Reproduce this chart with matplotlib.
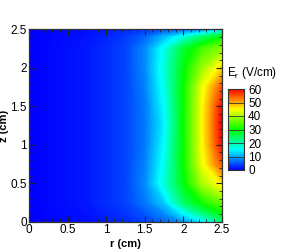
import numpy as np
import matplotlib
matplotlib.use("Agg")
import matplotlib.pyplot as plt
from matplotlib.colors import LinearSegmentedColormap
from matplotlib.ticker import MultipleLocator, FuncFormatter

plt.rcParams['font.family'] = ['Liberation Sans', 'DejaVu Sans']

# grid nodes (cm)
r = [0, 0.25, 0.5, 0.75, 1.0, 1.25, 1.5, 1.75, 2.0, 2.25, 2.5]
z = [0, 0.1, 0.25, 0.5, 0.75, 1.0, 1.25, 1.5, 1.75, 2.0, 2.25, 2.4, 2.5]

# E_r (V/cm), one row per z value
er = [
    [0, 0.3, 0.6, 1.0, 1.5, 2.5, 4.0, 6, 9, 14, 22],
    [0, 0.3, 0.7, 1.2, 2.0, 3.0, 5.0, 8, 14, 22, 29],
    [0, 0.5, 1.0, 1.5, 2.5, 4.0, 7.0, 12, 24, 31, 36],
    [0, 0.5, 1.0, 1.5, 2.5, 4.0, 8.0, 17, 29, 40, 46],
    [0, 0.5, 1.0, 1.5, 2.5, 4.0, 7.5, 16, 30, 44, 55],
    [0, 0.5, 1.0, 1.5, 2.5, 4.0, 7.0, 15, 30, 45, 59],
    [0, 0.5, 1.0, 1.5, 2.5, 4.0, 7.0, 14, 30, 45, 60],
    [0, 0.5, 1.0, 1.5, 2.5, 4.0, 7.0, 15, 30, 45, 59],
    [0, 0.5, 1.0, 1.5, 2.5, 4.0, 7.5, 16, 30, 44, 55],
    [0, 0.5, 1.0, 1.5, 2.5, 4.0, 8.0, 17, 29, 39, 47],
    [0, 0.5, 1.0, 1.5, 2.5, 4.0, 8.0, 16, 27, 34, 38],
    [0, 0.4, 0.8, 1.3, 2.0, 3.5, 6.0, 11, 17, 24, 30],
    [0, 0.3, 0.6, 1.0, 1.5, 2.5, 3.5, 4.5, 5.5, 7, 14],
]

cbar_ticks = [0, 10, 20, 30, 40, 50, 60]

cmap = LinearSegmentedColormap.from_list(
    "rainbow_tp", ["#0000ff", "#00ffff", "#00ff00", "#ffff00", "#ff0000"])

fig = plt.figure(figsize=(2.82, 2.5), dpi=100)
ax = fig.add_axes([0.1028, 0.1132, 0.684, 0.769])

R, Z = np.meshgrid(r, z)
levels = np.linspace(0, 60, 241)
ax.contourf(R, Z, np.array(er), levels=levels, cmap=cmap,
            extend="both", antialiased=False)

ax.set_xlim(0, 2.5)
ax.set_ylim(0, 2.5)
fmt = FuncFormatter(lambda v, p: f"{v:g}")
for axis in (ax.xaxis, ax.yaxis):
    axis.set_major_locator(MultipleLocator(0.5))
    axis.set_minor_locator(MultipleLocator(0.1))
    axis.set_major_formatter(fmt)
ax.tick_params(which="both", direction="in", top=True, right=True,
               labelsize=8.5, pad=1.5, color="#222222")
ax.tick_params(which="major", length=4, width=0.8)
ax.tick_params(which="minor", length=2, width=0.6)
for s in ax.spines.values():
    s.set_color("#333333")
    s.set_linewidth(0.9)
ax.set_xlabel("r (cm)", fontsize=8, fontweight="bold", labelpad=2)
ax.set_ylabel("z (cm)", fontsize=8, fontweight="bold", labelpad=1)

# colour legend
cax = fig.add_axes([0.8085, 0.32, 0.0567, 0.324])
grad = np.linspace(0, 60, 256).reshape(-1, 1)
cax.imshow(grad, cmap=cmap, aspect="auto", origin="lower",
           extent=[0, 1, 0, 60], vmin=0, vmax=60)
for t in cbar_ticks[1:-1]:
    cax.axhline(t, color="#333333", lw=0.6)
cax.set_xlim(0, 1)
cax.set_ylim(0, 60)
cax.set_xticks([])
cax.yaxis.tick_right()
cax.set_yticks(cbar_ticks)
cax.tick_params(axis="y", length=0, labelsize=8.5, pad=3)
for s in cax.spines.values():
    s.set_color("#333333")
    s.set_linewidth(0.8)
fig.text(0.806, 0.675, r"E$_\mathregular{r}$ (V/cm)", fontsize=8.5, ha="left", va="bottom")

fig.savefig("out.png", dpi=100)
